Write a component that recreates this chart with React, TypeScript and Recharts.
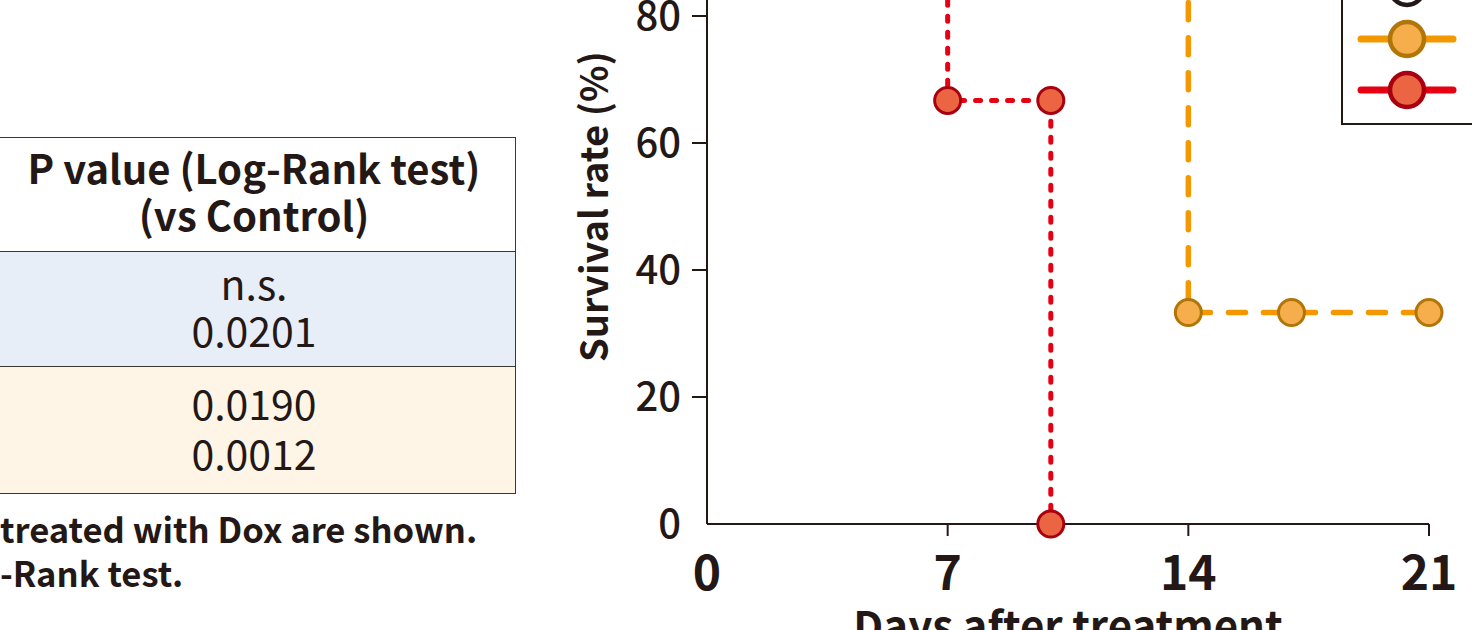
import React from 'react';
import { LineChart, Line, XAxis, YAxis, Label } from 'recharts';

const FONT = '"Noto Sans CJK JP", "Noto Sans", sans-serif';
const INK = '#231815';

// ---- data ----
const dayTicks = [0, 7, 14, 21];
const rateTicks = [0, 20, 40, 60, 80, 100];

const seriesNames = ['Control', 'Dox', 'Dox + combination'];

const controlDays = [0, 21];
const controlRates = [100, 100];
const controlMarks = [true, true];

const orangeDays = [0, 14, 17, 21];
const orangeRates = [100, 33.3, 33.3, 33.3];
const orangeMarks = [false, true, true, true];

const redDays = [0, 7, 10, 10];
const redRates = [100, 66.7, 66.7, 0];
const redMarks = [false, true, true, true];

const tableHeader = ['P value (Log-Rank test)', '(vs Control)'];
const tableRow1 = ['n.s.', '0.0201'];
const tableRow2 = ['0.0190', '0.0012'];
const footnotes = ['treated with Dox are shown.', '-Rank test.'];

const build = (days: number[], rates: number[], marks: boolean[]) =>
  days.map((d, i) => ({ day: d, rate: rates[i], mark: marks[i] }));

const controlData = build(controlDays, controlRates, controlMarks);
const orangeData = build(orangeDays, orangeRates, orangeMarks);
const redData = build(redDays, redRates, redMarks);

// ---- styles ----
const COLORS = {
  control: { line: '#231815', fill: '#ffffff', stroke: '#231815' },
  orange: { line: '#F39800', fill: '#F5AE4B', stroke: '#B27507' },
  red: { line: '#E60012', fill: '#EC6542', stroke: '#A8000F' },
};

const TS = 15; // tick size
const TM_Y = 11;
const TM_X = 19;

const makeDot = (fill: string, stroke: string) => (props: any) => {
  const { cx, cy, payload, index } = props;
  if (!payload || !payload.mark || cx == null || cy == null) return <g key={'d' + index} />;
  return <circle key={'d' + index} cx={cx} cy={cy} r={13} fill={fill} stroke={stroke} strokeWidth={3} />;
};

const YTick = (props: any) => {
  const { x, y, payload } = props;
  return (
    <g>
      {payload.value !== 0 && (
        <line x1={x + TM_Y} x2={x + TM_Y + TS} y1={y} y2={y} stroke={INK} strokeWidth={2} />
      )}
      <text x={x} y={y} dy="0.36em" textAnchor="end" fontFamily={FONT} fontWeight={500} fontSize={40} fill={INK}>
        {payload.value}
      </text>
    </g>
  );
};

const XTick = (props: any) => {
  const { x, y, payload } = props;
  return (
    <g>
      {payload.value !== 0 && (
        <line x1={x} x2={x} y1={y - TM_X - 12} y2={y - TM_X} stroke={INK} strokeWidth={2} />
      )}
      <text x={x} y={y} dy="0.72em" textAnchor="middle" fontFamily={FONT} fontWeight={700} fontSize={48} fill={INK}>
        {payload.value}
      </text>
    </g>
  );
};

const YLabel = (props: any) => {
  const vb = props.viewBox || {};
  const cx = vb.x + vb.width - 112;
  const cy = vb.y + vb.height / 2;
  return (
    <text
      x={cx}
      y={cy}
      dy="0.35em"
      textAnchor="middle"
      transform={`rotate(-90 ${cx} ${cy})`}
      fontFamily={FONT}
      fontWeight={700}
      fontSize={38}
      fill={INK}
    >
      Survival rate (%)
    </text>
  );
};

const XLabel = (props: any) => {
  const vb = props.viewBox || {};
  const cx = vb.x + vb.width / 2;
  const y = vb.y + 118;
  return (
    <text x={cx} y={y} textAnchor="middle" fontFamily={FONT} fontWeight={700} fontSize={42} fill={INK}>
      Days after treatment
    </text>
  );
};

const legendItems = [
  { name: seriesNames[0], c: COLORS.control },
  { name: seriesNames[1], c: COLORS.orange },
  { name: seriesNames[2], c: COLORS.red },
];

const LegendBox = () => (
  <div
    style={{
      position: 'absolute',
      left: 1341,
      top: -50,
      width: 200,
      height: 175,
      border: `2px solid ${INK}`,
      background: '#fff',
      boxSizing: 'border-box',
    }}
  >
    <svg width={196} height={171}>
      {legendItems.map((it, i) => {
        const cy = 36 + i * 51;
        return (
          <g key={it.name}>
            <line x1={18} x2={110} y1={cy} y2={cy} stroke={it.c.line} strokeWidth={7} strokeLinecap="round" />
            <circle cx={64} cy={cy} r={17} fill={it.c.fill} stroke={it.c.stroke} strokeWidth={4.5} />
          </g>
        );
      })}
    </svg>
  </div>
);

const cellText: React.CSSProperties = {
  fontFamily: FONT,
  fontSize: 41,
  lineHeight: '47px',
  color: INK,
  textAlign: 'center',
  whiteSpace: 'nowrap',
};

const cellBox: React.CSSProperties = {
  display: 'flex',
  flexDirection: 'column',
  justifyContent: 'center',
  paddingBottom: 7,
  boxSizing: 'border-box',
};

export default function App() {
  const border = `1.5px solid #3a3634`;
  return (
    <div
      style={{
        position: 'fixed',
        left: 0,
        top: 0,
        width: 1472,
        height: 630,
        overflow: 'hidden',
        background: '#fff',
      }}
    >
      {/* table */}
      <div
        style={{
          position: 'absolute',
          left: -8,
          top: 137,
          width: 524,
          border: border,
          boxSizing: 'border-box',
        }}
      >
        <div style={{ ...cellBox, height: 114, background: '#fff', borderBottom: border }}>
          {tableHeader.map((t) => (
            <div key={t} style={{ ...cellText, fontSize: 40, fontWeight: 700 }}>{t}</div>
          ))}
        </div>
        <div style={{ ...cellBox, height: 115, background: '#E7EEF8', borderBottom: border }}>
          {tableRow1.map((t) => (
            <div key={t} style={{ ...cellText, fontWeight: 400 }}>{t}</div>
          ))}
        </div>
        <div style={{ ...cellBox, height: 126, background: '#FEF5E7' }}>
          {tableRow2.map((t) => (
            <div key={t} style={{ ...cellText, fontWeight: 400, lineHeight: '50px' }}>{t}</div>
          ))}
        </div>
      </div>

      {/* footnotes */}
      <div style={{ position: 'absolute', left: 0, top: 506, fontFamily: FONT, fontWeight: 700, fontSize: 34.6, lineHeight: '44px', color: INK, whiteSpace: 'nowrap' }}>
        {footnotes.map((t) => (
          <div key={t}>{t}</div>
        ))}
      </div>

      {/* chart */}
      <div style={{ position: 'absolute', left: 507, top: -131 }}>
        <LineChart
          width={1122}
          height={795}
          margin={{ top: 20, right: 200, left: 100, bottom: 40 }}
        >
          <XAxis
            dataKey="day"
            type="number"
            domain={[0, 21]}
            ticks={dayTicks}
            height={100}
            axisLine={{ stroke: INK, strokeWidth: 2 }}
            tickLine={false}
            tickSize={12}
            tickMargin={TM_X}
            tick={<XTick />}
          >
            <Label content={<XLabel />} />
          </XAxis>
          <YAxis
            type="number"
            domain={[0, 100]}
            ticks={rateTicks}
            width={100}
            axisLine={{ stroke: INK, strokeWidth: 2 }}
            tickLine={false}
            tickSize={TS}
            tickMargin={TM_Y}
            tick={<YTick />}
          >
            <Label content={<YLabel />} />
          </YAxis>
          <Line
            data={controlData}
            dataKey="rate"
            name={seriesNames[0]}
            type="stepAfter"
            stroke={COLORS.control.line}
            strokeWidth={4}
            dot={makeDot(COLORS.control.fill, COLORS.control.stroke)}
            activeDot={false}
            isAnimationActive={false}
          />
          <Line
            data={orangeData}
            dataKey="rate"
            name={seriesNames[1]}
            type="stepAfter"
            stroke={COLORS.orange.line}
            strokeWidth={5.5}
            strokeDasharray="17 18"
            strokeLinecap="round"
            dot={makeDot(COLORS.orange.fill, COLORS.orange.stroke)}
            activeDot={false}
            isAnimationActive={false}
          />
          <Line
            data={redData}
            dataKey="rate"
            name={seriesNames[2]}
            type="stepAfter"
            stroke={COLORS.red.line}
            strokeWidth={5}
            strokeDasharray="5 11"
            strokeLinecap="round"
            dot={makeDot(COLORS.red.fill, COLORS.red.stroke)}
            activeDot={false}
            isAnimationActive={false}
          />
        </LineChart>
      </div>
      <LegendBox />
    </div>
  );
}
